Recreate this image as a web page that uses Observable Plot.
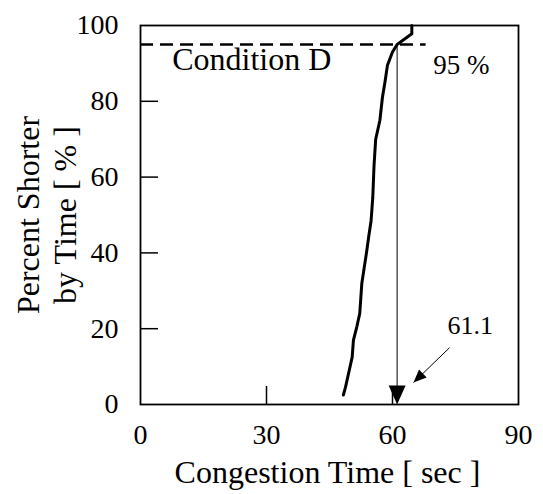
<!DOCTYPE html>
<html>
<head>
<meta charset="utf-8">
<script src="https://cdn.jsdelivr.net/npm/d3@7"></script>
<script src="https://cdn.jsdelivr.net/npm/@observablehq/plot@0.6"></script>
<style>
  html, body { margin: 0; padding: 0; background: #fff; }
  #chart svg { display: block; }
  #chart svg, #chart svg text { font-family: "Liberation Serif", "Times New Roman", serif !important; }
</style>
</head>
<body>
<div id="chart"></div>
<script>
// Cumulative distribution of congestion time (Condition D)
const congestionTime = [48.3, 48.8, 49.6, 50.4, 50.7, 51.5, 52.2, 52.7, 53.8, 54.3, 54.9, 55.3, 55.6, 56.0, 57.0, 57.6, 58.2, 58.8, 60.0, 61.1, 64.6, 64.6];
const percentShorter = [2.5, 4.5, 8.5, 12.5, 17, 20.5, 24, 32, 40, 44, 48.5, 54.5, 63, 70, 75, 81, 85, 89.5, 93, 95, 97.8, 100];

const xTicks = [0, 30, 60, 90];
const yTicks = [0, 20, 40, 60, 80, 100];
const xInnerTicks = [30, 60];
const yInnerTicks = [20, 40, 60, 80];

const percentileLevel = 95;      // dashed line level
const percentileValue = 61.1;    // congestion time at 95 %
const dashedLineEnd = 68;        // x extent of dashed line

const conditionLabel = "Condition D";
const percentLabel = "95 %";
const valueLabel = "61.1";
const xTitle = "Congestion Time [ sec ]";
const yTitle = "Percent Shorter\nby Time [ % ]";

// annotation arrow pointing at 61.1
const pointerFrom = {x: 73.6, y: 15.0};
const pointerTo = {x: 65.0, y: 5.8};

const W = 543, H = 494;
const mL = 140, mR = 25, mT = 25, mB = 90;
const tickLen = 18;
const font = "'Liberation Serif', 'Times New Roman', serif";

const data = congestionTime.map((x, i) => ({x, y: percentShorter[i]}));

// pixel geometry for the pointer arrow head rotation
const sx = d3.scaleLinear([0, 90], [mL, W - mR]);
const sy = d3.scaleLinear([0, 100], [H - mB, mT]);
const pdx = sx(pointerTo.x) - sx(pointerFrom.x);
const pdy = sy(pointerTo.y) - sy(pointerFrom.y);
const pointerAngle = Math.atan2(pdx, -pdy) * 180 / Math.PI;

const chart = Plot.plot({
  width: W,
  height: H,
  marginLeft: mL,
  marginRight: mR,
  marginTop: mT,
  marginBottom: mB,
  style: {fontFamily: font, background: "#fff", color: "#000"},
  x: {domain: [0, 90], axis: null},
  y: {domain: [0, 100], axis: null},
  marks: [
    // inward ticks
    Plot.ruleX(xInnerTicks, {x: d => d, y1: 0, y2: tickLen / ((H - mT - mB) / 100), stroke: "#000", strokeWidth: 1.5}),
    Plot.ruleY(yInnerTicks, {y: d => d, x1: 0, x2: tickLen / ((W - mL - mR) / 90), stroke: "#000", strokeWidth: 1.5}),
    // tick labels
    Plot.axisX(xTicks, {tickSize: 0, tickPadding: 20, fontSize: 28, fontFamily: font, label: null, fill: "#000"}),
    Plot.axisY(yTicks, {tickSize: 0, tickPadding: 22, fontSize: 28, fontFamily: font, label: null, fill: "#000"}),
    // dashed 95% line
    Plot.ruleY([percentileLevel], {x1: 0, x2: dashedLineEnd, stroke: "#000", strokeWidth: 2.5, strokeDasharray: "13,7"}),
    // vertical arrow at 61.1
    Plot.ruleX([percentileValue], {y1: percentileLevel, y2: 4, stroke: "#000", strokeWidth: 1}),
    Plot.vector([{x: percentileValue, y: 0}], {x: "x", y: "y", shape: "spike", anchor: "end", rotate: 180, length: 19, r: 8.5, fill: "#000", stroke: "none"}),
    // pointer arrow
    Plot.link([pointerFrom], {x1: "x", y1: "y", x2: () => pointerTo.x, y2: () => pointerTo.y, stroke: "#000", strokeWidth: 1}),
    Plot.vector([pointerTo], {x: "x", y: "y", shape: "spike", anchor: "end", rotate: pointerAngle, length: 13, r: 5.5, fill: "#000", stroke: "none"}),
    // cumulative curve
    Plot.line(data, {x: "x", y: "y", stroke: "#000", strokeWidth: 3, strokeLinejoin: "round"}),
    // frame
    Plot.frame({stroke: "#000", strokeWidth: 1.8}),
    // labels
    Plot.text([conditionLabel], {x: 26.5, y: 91, text: d => d, fontSize: 32, fontFamily: font, fill: "#000"}),
    Plot.text([percentLabel], {x: 76.4, y: 89.6, text: d => d, fontSize: 27, fontFamily: font, fill: "#000"}),
    Plot.text([valueLabel], {x: 78.5, y: 20.8, text: d => d, fontSize: 26, fontFamily: font, fill: "#000"}),
    Plot.text([xTitle], {frameAnchor: "bottom", dy: 68, dx: -2, lineAnchor: "middle", textAnchor: "middle", text: d => d, fontSize: 32, fontFamily: font, fill: "#000"}),
    Plot.text([yTitle], {frameAnchor: "left", dx: -94.5, rotate: -90, textAnchor: "middle", lineAnchor: "middle", text: d => d, fontSize: 32, fontFamily: font, lineHeight: 1.15, fill: "#000"})
  ]
});

document.getElementById("chart").appendChild(chart);
</script>
</body>
</html>
